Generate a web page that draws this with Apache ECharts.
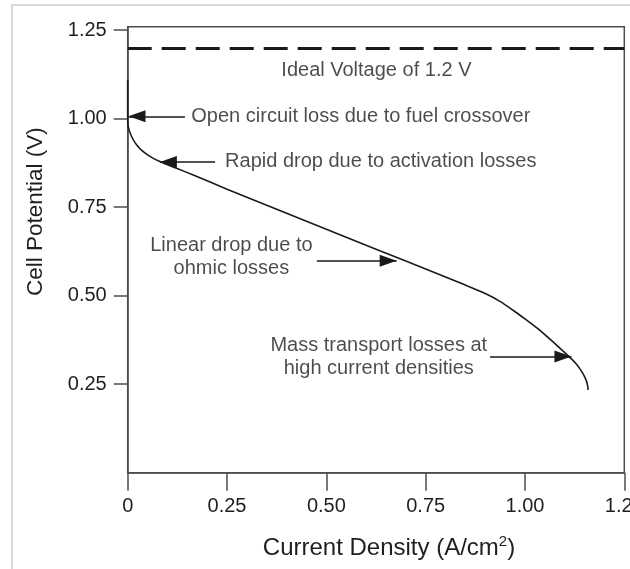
<!DOCTYPE html>
<html>
<head>
<meta charset="utf-8">
<script src="https://cdn.jsdelivr.net/npm/echarts@6/dist/echarts.min.js"></script>
<style>
html,body{margin:0;padding:0;background:#fff;}
#chart{width:630px;height:569px;}
</style>
</head>
<body>
<div id="chart"></div>
<script>
// ---- data ----
const currentDensity = [0, 0, 0.0015, 0.010, 0.0227, 0.039, 0.060, 0.081, 0.123, 0.165, 0.25, 0.4, 0.55, 0.7, 0.85, 0.900, 0.937, 0.970, 1.004, 1.030, 1.055, 1.085, 1.113, 1.127, 1.138, 1.148, 1.155, 1.158, 1.159];
const cellPotential  = [1.11, 1.0, 0.977, 0.949, 0.926, 0.907, 0.891, 0.879, 0.860, 0.841, 0.801, 0.733, 0.665, 0.598, 0.530, 0.506, 0.484, 0.459, 0.431, 0.409, 0.385, 0.355, 0.326, 0.310, 0.294, 0.276, 0.258, 0.244, 0.234];
const idealVoltage = 1.2;
const xTicks = [0, 0.25, 0.5, 0.75, 1.0, 1.25];
const yTicks = [0.25, 0.5, 0.75, 1.0, 1.25];
const xLabel = 'Current Density (A/cm{sup|2})';
const yLabel = 'Cell Potential (V)';

// annotations: text anchors (data coords)
const annotationTexts = [
  'Ideal Voltage of 1.2 V',
  'Open circuit loss due to fuel crossover',
  'Rapid drop due to activation losses',
  'Linear drop due to\nohmic losses',
  'Mass transport losses at\nhigh current densities'
];
const annotationX = [0.626, 0.160, 0.245, 0.261, 0.632];
const annotationY = [1.135, 1.005, 0.880, 0.609, 0.327];
const annotationAlign = ['center', 'left', 'left', 'center', 'center'];

// arrows: tail -> tip (data coords)
const arrowTailX = [0.144, 0.220, 0.476, 0.912];
const arrowTailY = [1.007, 0.878, 0.599, 0.328];
const arrowTipX  = [0.002, 0.081, 0.677, 1.117];
const arrowTipY  = [1.007, 0.878, 0.599, 0.328];

// ---- chart ----
const FONT = "'Liberation Sans', Arial, Helvetica, sans-serif";
const AXIS_COLOR = '#4d4d4d';
const TEXT_COLOR = '#1f1f1f';

const chart = echarts.init(document.getElementById('chart'), null, {renderer: 'canvas'});

const curve = currentDensity.map((x, i) => [x, cellPotential[i]]);
const anchors = annotationTexts.map((t, i) => ({
  value: [annotationX[i], annotationY[i]],
  label: annotationAlign[i] === 'center'
    ? {position: 'inside', align: 'center', verticalAlign: 'middle'}
    : {position: 'right', distance: 0, align: 'left', verticalAlign: 'middle'}
}));
const arrowLines = arrowTailX.map((x, i) => [
  {coord: [x, arrowTailY[i]]},
  {coord: [arrowTipX[i], arrowTipY[i]]}
]);

const option = {
  backgroundColor: '#ffffff',
  animation: false,
  textStyle: {fontFamily: FONT},
  graphic: [{
    type: 'rect', z: -10, silent: true,
    shape: {x: 12, y: 5, width: 700, height: 700},
    style: {fill: 'none', stroke: '#d9d9d9', lineWidth: 2}
  }],
  grid: {
    left: 127.7, right: 5.7, top: 26.7, bottom: 96.3,
    containLabel: false, outerBoundsMode: 'none',
    show: true, borderColor: AXIS_COLOR, borderWidth: 1.5, backgroundColor: 'transparent'
  },
  xAxis: {
    type: 'value', min: 0, max: 1.25, interval: 0.25,
    name: xLabel, nameLocation: 'middle', nameGap: 62,
    nameTextStyle: {
      fontSize: 24, color: TEXT_COLOR, fontFamily: FONT, padding: [0, 0, 0, 26], lineHeight: 28,
      rich: {sup: {fontSize: 15, color: TEXT_COLOR, fontFamily: FONT, verticalAlign: 'top', lineHeight: 15}}
    },
    axisLine: {show: true, onZero: false, lineStyle: {color: AXIS_COLOR, width: 1.5}},
    axisTick: {show: true, inside: false, length: 18, customValues: xTicks, lineStyle: {color: AXIS_COLOR, width: 1.5}},
    axisLabel: {
      show: true, margin: 24, fontSize: 20, color: TEXT_COLOR, fontFamily: FONT,
      customValues: xTicks,
      formatter: v => (v === 0 ? '0' : v.toFixed(2))
    },
    splitLine: {show: false}
  },
  yAxis: {
    type: 'value', min: 0, max: 1.26,
    name: yLabel, nameLocation: 'middle', nameGap: 80, nameRotate: 90,
    nameTextStyle: {fontSize: 22.5, color: TEXT_COLOR, fontFamily: FONT, padding: [0, 0, 0, 76]},
    axisLine: {show: true, onZero: false, lineStyle: {color: AXIS_COLOR, width: 1.5}},
    axisTick: {show: true, inside: false, length: 14, customValues: yTicks, lineStyle: {color: AXIS_COLOR, width: 1.5}},
    axisLabel: {
      show: true, margin: 21, fontSize: 20, color: TEXT_COLOR, fontFamily: FONT,
      customValues: yTicks,
      formatter: v => v.toFixed(2)
    },
    splitLine: {show: false}
  },
  series: [
    {
      name: 'Polarization curve',
      type: 'line',
      data: curve,
      smooth: 0.3,
      showSymbol: false,
      symbol: 'none',
      lineStyle: {color: '#1a1a1a', width: 1.6},
      z: 3,
      markLine: {
        silent: true,
        symbol: ['none', 'none'],
        label: {show: false},
        lineStyle: {color: '#1a1a1a', width: 3, type: [24, 10]},
        data: [{yAxis: idealVoltage}]
      }
    },
    {
      name: 'Annotations',
      type: 'scatter',
      data: anchors,
      symbolSize: 0.1,
      itemStyle: {color: 'transparent'},
      silent: true,
      label: {
        show: true,
        fontSize: 20,
        lineHeight: 23,
        color: TEXT_COLOR,
        fontFamily: FONT,
        formatter: p => annotationTexts[p.dataIndex]
      },
      markLine: {
        silent: true,
        symbol: ['none', 'triangle'],
        symbolSize: [12, 17],
        symbolOffset: [0, [0, 8.5]],
        label: {show: false},
        lineStyle: {color: '#1a1a1a', width: 1.6, type: 'solid'},
        itemStyle: {color: '#1a1a1a'},
        data: arrowLines
      }
    }
  ]
};
chart.setOption(option);
</script>
</body>
</html>
